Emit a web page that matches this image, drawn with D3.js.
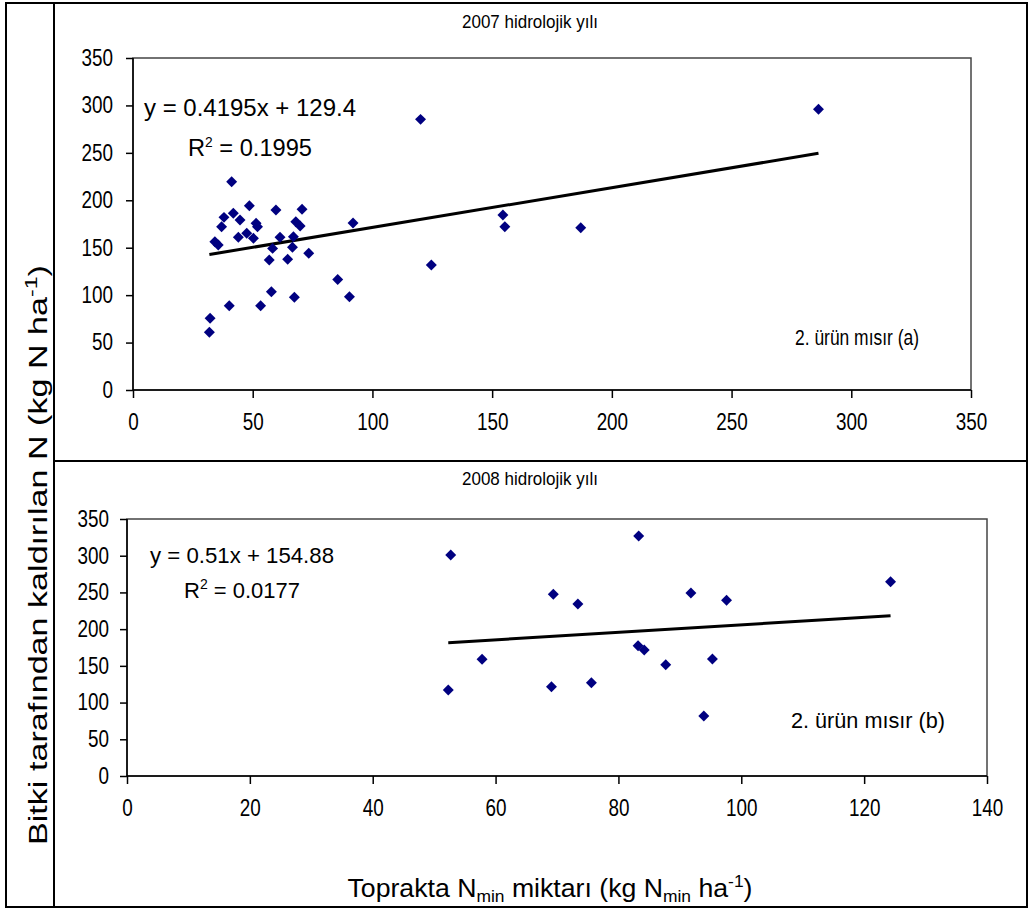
<!DOCTYPE html>
<html>
<head>
<meta charset="utf-8">
<script src="https://cdn.jsdelivr.net/npm/d3@7"></script>
<style>
  body { margin: 0; background: #fff; }
  svg { display: block; }
  text { font-family: "Liberation Sans", Arial, sans-serif; fill: #000; }
</style>
</head>
<body>
<svg width="1031" height="911"></svg>
<script>
const svg = d3.select("svg")

// 2007 panel (a)
const xA = [31.9, 32.2, 34.2, 35.6, 37.0, 38.0, 40.2, 41.2, 41.9, 44.0, 44.7, 47.5, 48.6, 50.3, 51.4, 52.0,
  53.3, 56.9, 57.8, 58.3, 59.7, 61.4, 64.6, 66.6, 67.0, 67.4, 68.0, 69.8, 70.6, 73.4, 85.5, 90.4, 91.9,
  120.1, 124.6, 154.5, 155.3, 187.0, 286.3]
const yA = [60.8, 75.6, 156.3, 152.9, 172.2, 182.0, 88.9, 219.6, 186.3, 161.0, 179.2, 165.2, 194.3, 159.9, 175.7, 172.0,
  88.9, 137.0, 103.6, 149.3, 189.8, 161.0, 137.8, 150.4, 161.6, 97.7, 177.4, 172.9, 190.5, 144.1, 116.5, 98.4, 176.0,
  285.3, 131.8, 184.5, 172.2, 171.1, 295.9]
const fitA = [0.4195, 129.4]

// 2008 panel (b)
const xB = [52.7, 52.3, 57.8, 69.4, 69.1, 73.4, 75.6, 83.3, 83.2, 84.2, 87.7, 91.8, 93.9, 95.3, 97.6, 124.3]
const yB = [301, 117.1, 158.9, 247.4, 121.6, 234.2, 127.1, 326.8, 177.5, 171.6, 151.6, 249.2, 81.7, 159.3, 239.3, 264.6]
const fitB = [0.51, 154.88]

const yTicks = [0, 50, 100, 150, 200, 250, 300, 350]
const xTicksA = [0, 50, 100, 150, 200, 250, 300, 350]
const xTicksB = [0, 20, 40, 60, 80, 100, 120, 140]

// the picture is stretched upright, so text is drawn taller and squeezed sideways
const squeeze = (sel, f) => sel.each(function () {
  const w = this.getComputedTextLength()
  d3.select(this).attr("textLength", w * f).attr("lengthAdjust", "spacingAndGlyphs")
})
const fit = (sel, w) => sel.attr("textLength", w).attr("lengthAdjust", "spacingAndGlyphs")

// outer frame
svg.append("rect").attr("x", 6).attr("y", 3).attr("width", 1021).attr("height", 904)
  .attr("fill", "none").attr("stroke", "#000").attr("stroke-width", 2)
svg.append("line").attr("x1", 54).attr("x2", 54).attr("y1", 3).attr("y2", 907)
  .attr("stroke", "#000").attr("stroke-width", 2)
svg.append("line").attr("x1", 54).attr("x2", 1027).attr("y1", 461).attr("y2", 461)
  .attr("stroke", "#000").attr("stroke-width", 2)

const panel = (p) => {
  const x = d3.scaleLinear().domain([0, d3.max(p.xTicks)]).range([p.left, p.right])
  const y = d3.scaleLinear().domain([0, 350]).range([p.bottom, p.top])

  svg.append("rect")
    .attr("x", p.left).attr("y", p.top)
    .attr("width", p.right - p.left).attr("height", p.bottom - p.top)
    .attr("fill", "none").attr("stroke", "#444").attr("stroke-width", 1.5)

  const yAxis = svg.append("g").attr("transform", `translate(${p.left},0)`)
    .call(d3.axisLeft(y).tickValues(yTicks).tickSize(7).tickPadding(p.yPad))
  const xAxis = svg.append("g").attr("transform", `translate(0,${p.bottom})`)
    .call(d3.axisBottom(x).tickValues(p.xTicks).tickSize(8).tickPadding(16))
  ;[yAxis, xAxis].forEach(a => {
    a.attr("font-family", null).attr("font-size", null)
    a.selectAll("path, line").attr("stroke", "#000").attr("stroke-width", 1.5)
    a.selectAll("text").style("font-size", "23px").call(squeeze, 0.82)
  })
  yAxis.select(".domain").attr("d", `M-0,${p.bottom}V${p.top}`)
  xAxis.select(".domain").attr("d", `M${p.left},0H${p.right}`)

  // title
  svg.append("text")
    .attr("x", p.titleX).attr("y", p.titleY)
    .attr("text-anchor", "middle").style("font-size", "19px")
    .text(p.title).call(fit, 136)

  // trend line
  const x0 = d3.min(p.xs), x1 = d3.max(p.xs)
  svg.append("line")
    .attr("x1", x(x0)).attr("y1", y(p.fit[0] * x0 + p.fit[1]))
    .attr("x2", x(x1)).attr("y2", y(p.fit[0] * x1 + p.fit[1]))
    .attr("stroke", "#000").attr("stroke-width", 3)

  // points
  svg.append("g").selectAll("path").data(p.xs.map((d, i) => [d, p.ys[i]]))
    .join("path")
    .attr("d", d3.symbol(d3.symbolSquare, 60))
    .attr("transform", d => `translate(${x(d[0])},${y(d[1])}) rotate(45)`)
    .attr("fill", "#000080")

  // equation
  const eq = svg.append("g").style("font-size", p.eqSize + "px")
  eq.append("text").attr("x", p.eqX).attr("y", p.eqY)
    .attr("text-anchor", "middle")
    .text(p.eq).call(fit, p.eqW)
  const r2 = eq.append("text").attr("x", p.eqX).attr("y", p.eqY + p.eqGap)
    .attr("text-anchor", "middle")
  r2.append("tspan").text("R")
  r2.append("tspan").attr("dy", -9).style("font-size", "14px").text("2")
  r2.append("tspan").attr("dy", 9).text(" = " + p.r2)
  r2.call(fit, p.r2W)

  svg.append("text")
    .attr("x", p.noteX).attr("y", p.noteY)
    .attr("text-anchor", "middle").style("font-size", "22px")
    .text(p.note).call(fit, p.noteW)
}

panel({
  left: 133, right: 971, top: 58, bottom: 390, yPad: 13,
  xTicks: xTicksA, xs: xA, ys: yA, fit: fitA,
  title: "2007 hidrolojik yılı", titleX: 530, titleY: 28,
  eq: "y = 0.4195x + 129.4", r2: "0.1995", eqSize: 24, eqX: 250, eqY: 116, eqGap: 40, eqW: 212, r2W: 124,
  note: "2. ürün mısır (a)", noteX: 857, noteY: 345, noteW: 124
})

panel({
  left: 127, right: 987, top: 519, bottom: 776, yPad: 11,
  xTicks: xTicksB, xs: xB, ys: yB, fit: fitB,
  title: "2008 hidrolojik yılı", titleX: 530, titleY: 485,
  eq: "y = 0.51x + 154.88", r2: "0.0177", eqSize: 22, eqX: 242, eqY: 563, eqGap: 35, eqW: 184, r2W: 116,
  note: "2. ürün mısır (b)", noteX: 868, noteY: 728, noteW: 154
})

// axis titles
const xl = svg.append("text").style("font-size", "26px")
  .attr("x", 550).attr("y", 897).attr("text-anchor", "middle")
xl.append("tspan").text("Toprakta N")
xl.append("tspan").attr("dy", 5).style("font-size", "17px").text("min")
xl.append("tspan").attr("dy", -5).text(" miktarı (kg N")
xl.append("tspan").attr("dy", 5).style("font-size", "17px").text("min")
xl.append("tspan").attr("dy", -5).text(" ha")
xl.append("tspan").attr("dy", -10).style("font-size", "17px").text("-1")
xl.append("tspan").attr("dy", 10).text(")")
xl.call(fit, 405)

const yl = svg.append("text").style("font-size", "25px")
  .attr("transform", "translate(47,555) rotate(-90)").attr("text-anchor", "middle")
yl.append("tspan").text("Bitki tarafından kaldırılan N (kg N ha")
yl.append("tspan").attr("dy", -10).style("font-size", "17px").text("-1")
yl.append("tspan").attr("dy", 10).text(")")
yl.call(fit, 580)
</script>
</body>
</html>
